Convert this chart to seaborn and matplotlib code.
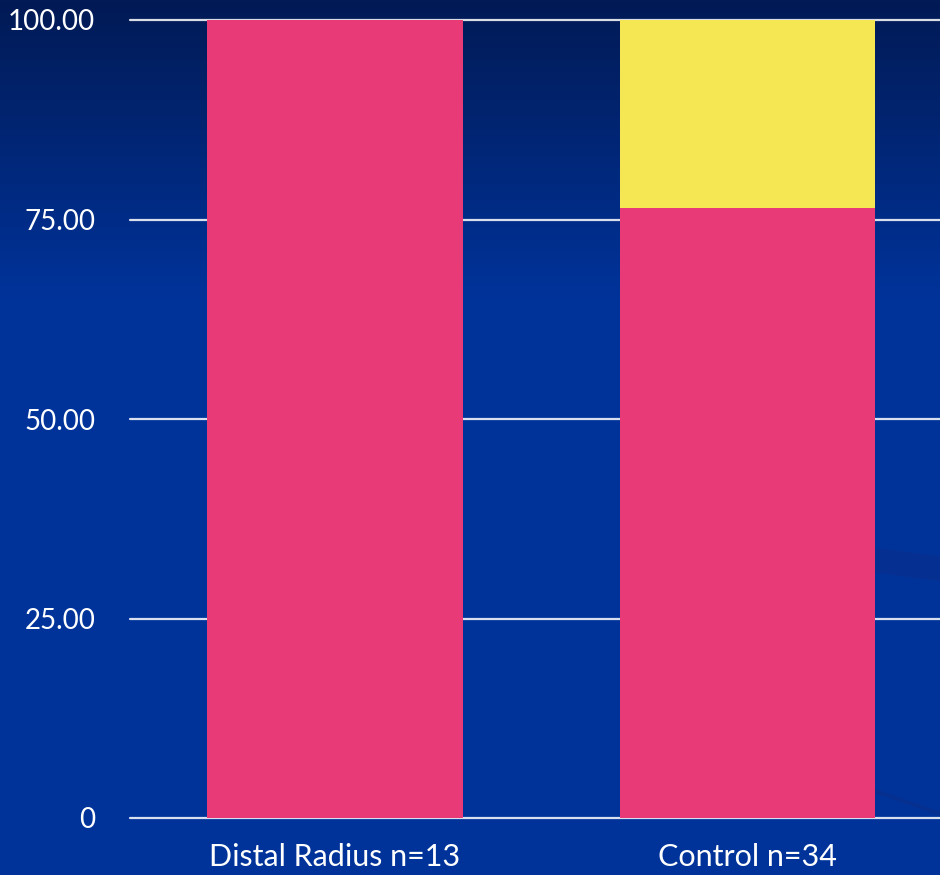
import numpy as np
import pandas as pd
import matplotlib
matplotlib.use("Agg")
import matplotlib.pyplot as plt
from matplotlib.colors import LinearSegmentedColormap
import seaborn as sns

# ── Data ──────────────────────────────────────────────────────────────────────
groups      = ["Distal Radius n=13", "Control n=34"]
pink_pct    = [100.0, 76.47]
yellow_pct  = [0.0, 23.53]
y_ticks     = [0, 25, 50, 75, 100]
y_ticklabels = ["0", "25.00", "50.00", "75.00", "100.00"]

PINK   = "#E83A77"
YELLOW = "#F5E653"

df = pd.DataFrame({"group": groups, "pink": pink_pct, "yellow": yellow_pct})
df["total"] = df["pink"] + df["yellow"]

sns.set_style("white")
plt.rcParams["font.family"] = ["Lato", "DejaVu Sans"]

fig = plt.figure(figsize=(9.4, 8.75), dpi=100)

# background gradient (dark navy at top -> royal blue)
bg = fig.add_axes([0, 0, 1, 1], zorder=0)
grad = np.concatenate([np.linspace(0, 1, 300), np.ones(575)])[:, None]
cmap = LinearSegmentedColormap.from_list("bg", ["#021A55", "#00339A"])
bg.imshow(grad, aspect="auto", cmap=cmap, extent=[0, 1, 0, 1], origin="upper")
bg.plot([0.93, 1.0], [0.36, 0.35], color="#0A2E8A", lw=18, alpha=0.5)
bg.plot([0.92, 1.0], [0.10, 0.07], color="#0A2E8A", lw=3, alpha=0.6)
bg.set_xlim(0, 1)
bg.set_ylim(0, 1)
bg.axis("off")

ax = fig.add_axes([130 / 940, 57 / 875, 810 / 940, 798 / 875], zorder=1)
ax.patch.set_alpha(0)

sns.barplot(data=df, x="group", y="total", color=YELLOW, width=0.62,
            saturation=1, linewidth=0, edgecolor="none", ax=ax, zorder=3)
sns.barplot(data=df, x="group", y="pink", color=PINK, width=0.62,
            saturation=1, linewidth=0, edgecolor="none", ax=ax, zorder=4)

for t in y_ticks:
    ax.axhline(t, color="white", lw=1.6, alpha=0.85, zorder=2, clip_on=False)

ax.set_xlim(-0.497, 1.467)
ax.set_ylim(0, 100)
ax.set_yticks(y_ticks)
ax.set_yticklabels(y_ticklabels)
ax.tick_params(axis="both", length=0, colors="white")
ax.tick_params(axis="y", pad=25, labelsize=20)
ax.tick_params(axis="x", pad=18, labelsize=22)
ax.set_xlabel("")
ax.set_ylabel("")
for s in ax.spines.values():
    s.set_visible(False)

plt.savefig("out.png", dpi=100)
plt.close()
